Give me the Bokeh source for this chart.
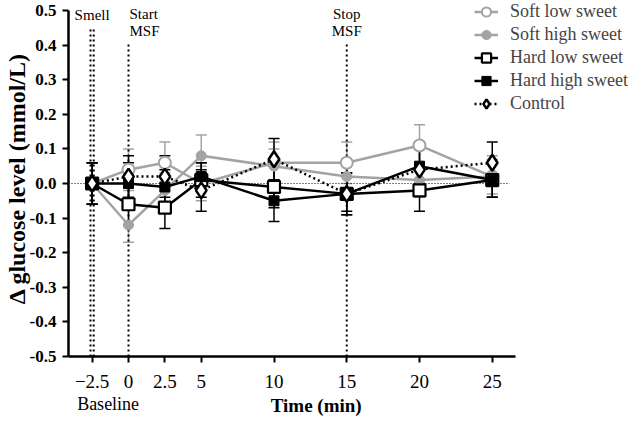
from bokeh.plotting import figure
from bokeh.models import (ColumnDataSource, Whisker, TeeHead, LinearAxis,
                          FixedTicker, Range1d)
from bokeh.core.properties import value
from bokeh.embed import file_html
from bokeh.resources import INLINE

# ---------------- data ----------------
time = [-2.5, 0, 2.5, 5, 10, 15, 20, 25]
x_ticks = [-2.5, 0, 2.5, 5, 10, 15, 20, 25]
x_tick_labels = ["\u22122.5", "0", "2.5", "5", "10", "15", "20", "25"]
y_ticks = [0.5, 0.4, 0.3, 0.2, 0.1, 0.0, -0.1, -0.2, -0.3, -0.4, -0.5]
y_tick_labels = ["0.5", "0.4", "0.3", "0.2", "0.1", "0.0", "-0.1", "-0.2", "-0.3", "-0.4", "-0.5"]

series_names = ["Soft low sweet", "Soft high sweet", "Hard low sweet", "Hard high sweet", "Control"]
soft_low = [0.0, 0.04, 0.06, 0.00, 0.06, 0.06, 0.11, 0.02]
soft_low_err = [0.06, 0.06, 0.06, 0.05, 0.06, 0.06, 0.06, 0.05]
soft_high = [0.0, -0.12, -0.02, 0.08, 0.05, 0.02, 0.01, 0.02]
soft_high_err = [0.06, 0.05, 0.05, 0.06, 0.05, 0.05, 0.05, 0.06]
hard_low = [0.0, -0.06, -0.07, 0.01, -0.01, -0.03, -0.02, 0.01]
hard_low_err = [0.06, 0.06, 0.06, 0.05, 0.06, 0.06, 0.06, 0.05]
hard_high = [0.0, 0.0, -0.01, 0.02, -0.05, -0.03, 0.05, 0.01]
hard_high_err = [0.06, 0.06, 0.05, 0.04, 0.06, 0.05, 0.05, 0.05]
control = [0.0, 0.02, 0.02, -0.02, 0.07, -0.03, 0.04, 0.06]
control_err = [0.06, 0.06, 0.06, 0.06, 0.06, 0.06, 0.06, 0.06]

event_times = [-2.5, 0, 15]
event_labels = ["Smell", "Start\nMSF", "Stop\nMSF"]

x_title = "Time (min)"
x_title_at = 12.9
baseline_text = "Baseline"
baseline_at = -1.4

FONT = "Liberation Serif"
GRAY = "#a3a3a3"

PX_PER_MIN = 14.55
LEFT = 64                      # px of left border
FRAME_W = 626 - LEFT
X_START = -(132 - 8 - LEFT) / PX_PER_MIN
AXIS_END = 26.6
Y_LO, Y_HI = -0.5, 0.5
DATA_H = 346
TOP_PAD = 10

p = figure(frame_width=FRAME_W, frame_height=DATA_H + TOP_PAD,
           output_backend="svg", toolbar_location=None,
           x_range=Range1d(X_START, X_START + FRAME_W / PX_PER_MIN),
           y_range=Range1d(Y_LO, Y_HI + TOP_PAD / DATA_H),
           min_border_left=LEFT, min_border_right=0, min_border_top=0,
           min_border_bottom=421 - DATA_H - TOP_PAD)
p.outline_line_color = None
p.xgrid.visible = False
p.ygrid.visible = False

# zero line
p.segment(x0=[X_START], y0=[0], x1=[AXIS_END - 0.4], y1=[0], line_color="black",
          line_width=1, line_dash="1 2")

# event lines (double line at smell)
ev_tops = [0.445, 0.41, 0.41]
for t, top in zip(event_times, ev_tops):
    offs = [-0.11, 0.11] if t == event_times[0] else [0.0]
    for o in offs:
        p.segment(x0=[t + o], y0=[Y_LO], x1=[t + o], y1=[top],
                  line_color="black", line_width=2, line_dash="2 3")

# event labels
p.text(x=[event_times[0]], y=[0.487], text=[event_labels[0]],
       text_font=value(FONT), text_font_size="15px", text_align="center",
       text_baseline="middle", text_color="black")
p.text(x=[event_times[1]], y=[0.5], text=[event_labels[1]],
       text_font=value(FONT), text_font_size="15px", text_align="left",
       text_baseline="top", text_color="black", x_offset=1, y_offset=-5,
       text_line_height=1.1)
p.text(x=[event_times[2]], y=[0.5], text=[event_labels[2]],
       text_font=value(FONT), text_font_size="15px", text_align="center",
       text_baseline="top", text_color="black", y_offset=-5,
       text_line_height=1.1)

specs = [
    (soft_low, soft_low_err, GRAY, "circle", "white", 12, 2.0, "solid"),
    (soft_high, soft_high_err, GRAY, "circle", GRAY, 10, 1.0, "solid"),
    (hard_low, hard_low_err, "black", "square", "white", 12, 2.2, "solid"),
    (hard_high, hard_high_err, "black", "square", "black", 10, 1.0, "solid"),
    (control, control_err, "black", "diamond", "white", 16, 2.5, "2 3"),
]

for name, (vals, errs, col, mk, fill, size, mlw, dash) in zip(series_names, specs):
    src = ColumnDataSource(dict(
        x=time, y=vals,
        upper=[v + e for v, e in zip(vals, errs)],
        lower=[v - e for v, e in zip(vals, errs)],
    ))
    w = Whisker(source=src, base="x", upper="upper", lower="lower",
                line_color=col, line_width=1.5,
                upper_head=TeeHead(size=11, line_color=col, line_width=1.5),
                lower_head=TeeHead(size=11, line_color=col, line_width=1.5))
    p.add_layout(w)
    p.line("x", "y", source=src, line_color=col, line_width=2.5,
           line_dash=dash, legend_label=name)
    p.scatter("x", "y", source=src, marker=mk, size=size, line_color=col,
              fill_color=fill, line_width=mlw, legend_label=name)

# legend
leg = p.legend[0]
leg.location = (478 - 8 - LEFT, DATA_H + TOP_PAD - 115)
leg.padding = 0
leg.margin = 0
leg.spacing = 0
leg.label_height = 23
leg.glyph_height = 23
leg.glyph_width = 24
leg.label_standoff = 12
leg.label_text_font = FONT
leg.label_text_font_size = "18px"
leg.border_line_color = None
leg.background_fill_alpha = 0

# axes
p.xaxis.ticker = FixedTicker(ticks=x_ticks)
p.xaxis.major_label_overrides = {t: l for t, l in zip(x_ticks, x_tick_labels)}
p.xaxis.bounds = (X_START, AXIS_END)
p.yaxis.ticker = FixedTicker(ticks=y_ticks)
p.yaxis.major_label_overrides = {t: l for t, l in zip(y_ticks, y_tick_labels)}
p.yaxis.bounds = (Y_LO, Y_HI)
for ax in (p.xaxis[0], p.yaxis[0]):
    ax.axis_line_width = 2.5
    ax.axis_line_color = "black"
    ax.major_tick_line_width = 2
    ax.major_tick_in = 0
    ax.major_tick_out = 6
    ax.minor_tick_line_color = None
    ax.major_label_text_font = FONT
    ax.major_label_text_color = "black"
    ax.axis_label_text_font = FONT
    ax.axis_label_text_font_style = "bold"
    ax.axis_label_text_color = "black"

p.xaxis.major_label_text_font_size = "19px"
p.xaxis.major_label_standoff = 12
p.yaxis.major_label_text_font_size = "17px"
p.yaxis.major_label_text_font_style = "bold"
p.yaxis.major_label_standoff = 6
p.yaxis.axis_label = "\u0394 glucose level (mmol/L)"
p.yaxis.axis_label_text_font_size = "24px"
p.yaxis.axis_label_standoff = -3


def text_axis(tick, label, size, style, standoff):
    ax = LinearAxis(ticker=FixedTicker(ticks=[tick]),
                    major_label_overrides={tick: label})
    ax.axis_line_color = None
    ax.major_tick_line_color = None
    ax.major_tick_in = 0
    ax.major_tick_out = 0
    ax.minor_tick_line_color = None
    ax.major_label_text_font = FONT
    ax.major_label_text_font_size = size
    ax.major_label_text_font_style = style
    ax.major_label_text_color = "black"
    ax.major_label_standoff = standoff
    return ax


p.add_layout(text_axis(baseline_at, baseline_text, "18px", "normal", 3), "below")
p.add_layout(text_axis(x_title_at, x_title, "19px", "bold", -22), "below")

open("out.html", "w").write(file_html(p, INLINE))
